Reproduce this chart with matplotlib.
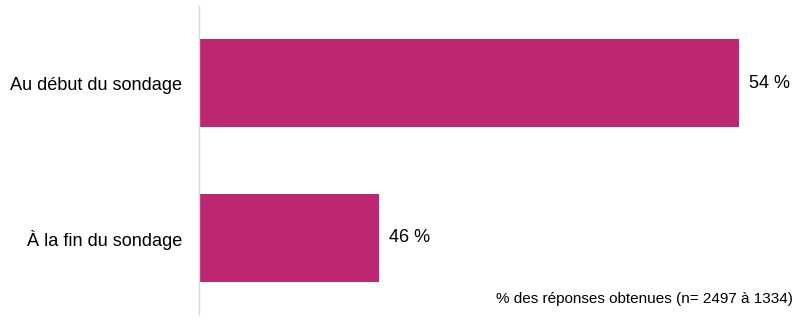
import matplotlib.pyplot as plt

plt.rcParams['font.family'] = ['Liberation Sans', 'DejaVu Sans']

categories = ['Au début du sondage', 'À la fin du sondage']
values = [54, 18]
value_labels = ['54 %', '46 %']
note = '% des réponses obtenues (n= 2497 à 1334)'

bar_color = '#BD2671'

fig = plt.figure(figsize=(8, 3.2), dpi=100)
ax = fig.add_axes([199 / 800, 5 / 320, 600 / 800, 309 / 320])

y = range(len(categories))
ax.barh(y, values, height=0.57, color=bar_color)
ax.set_xlim(0, 60)
ax.set_ylim(1.5, -0.5)

for yi, v, lab in zip(y, values, value_labels):
    ax.annotate(lab, (v, yi), xytext=(7.2, 0), textcoords='offset points',
                va='center', ha='left', fontsize=13, color='black')

ax.set_yticks(list(y))
ax.set_yticklabels(categories, fontsize=13.1)
ax.tick_params(axis='y', length=0, pad=12)
ax.set_xticks([])

for s in ['top', 'right', 'bottom']:
    ax.spines[s].set_visible(False)
ax.spines['left'].set_color('#d9d9d9')
ax.spines['left'].set_linewidth(1)

fig.text(793 / 800, 1 - 299 / 320, note, ha='right', va='center', fontsize=11)

fig.savefig('out.png', dpi=100)
